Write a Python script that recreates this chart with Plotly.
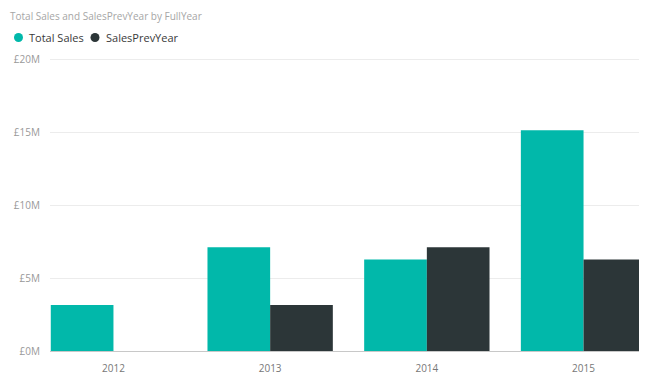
import plotly.graph_objects as go

years = ["2012", "2013", "2014", "2015"]
total_sales = [3.15e6, 7.12e6, 6.28e6, 15.14e6]
sales_prev_year = [None, 3.15e6, 7.12e6, 6.28e6]
y_ticks = [0, 5e6, 10e6, 15e6, 20e6]
y_tick_labels = ["£0M", "£5M", "£10M", "£15M", "£20M"]
series_names = ["Total Sales", "SalesPrevYear"]

TEAL = "#01B8AA"
DARK = "#2C3638"
FONT = "Segoe UI, Open Sans, sans-serif"

# the page body adds an 8px offset; the figure is sized to fill the rest of the window
OFF = 8
W, H = 647 - OFF, 376 - OFF
ML, MR, MT, MB = 42, 0, 50, 25
PW, PH = W - ML - MR, H - MT - MB


def px_x(px):  # screenshot px -> paper x
    return (px - OFF - ML) / PW


def px_y(py):  # screenshot px -> paper y
    return 1 - (py - OFF - MT) / PH


fig = go.Figure()
fig.add_trace(go.Bar(x=years, y=total_sales, name=series_names[0],
                     marker=dict(color=TEAL, line=dict(width=0))))
fig.add_trace(go.Bar(x=years, y=sales_prev_year, name=series_names[1],
                     marker=dict(color=DARK, line=dict(width=0))))

# custom legend (round markers, as in the original)
legend_items = [(series_names[0], TEAL, 18.5, 26.5), (series_names[1], DARK, 95, 103.5)]
LEG_Y = 37.5
shapes, annotations = [], []
for name, color, cx, tx in legend_items:
    shapes.append(dict(type="circle", xref="paper", yref="paper",
                       xsizemode="pixel", ysizemode="pixel",
                       xanchor=px_x(cx), yanchor=px_y(LEG_Y),
                       x0=-4.5, x1=4.5, y0=-4.5, y1=4.5,
                       fillcolor=color, line=dict(width=0)))
    annotations.append(dict(text=name, xref="paper", yref="paper",
                            x=px_x(tx), y=px_y(LEG_Y),
                            xanchor="left", yanchor="middle", showarrow=False,
                            font=dict(family=FONT, size=11, color="#3a3a3a")))

fig.update_layout(
    width=W, height=H,
    margin=dict(l=ML, r=MR, t=MT, b=MB, autoexpand=False),
    paper_bgcolor="white", plot_bgcolor="white",
    barmode="group", bargap=0.2, bargroupgap=0,
    showlegend=False,
    font=dict(family=FONT, color="#999999", size=10),
    title=dict(text="Total Sales and SalesPrevYear by FullYear",
               x=(10 - OFF) / W, xref="container", xanchor="left",
               y=1 - (16 - OFF) / H, yref="container", yanchor="middle",
               font=dict(family=FONT, size=10, color="#a6a6a6")),
    shapes=shapes, annotations=annotations,
    xaxis=dict(type="category", range=[-0.405, 3.405], showgrid=False,
               showline=True, linecolor="#c8c8c8", linewidth=1,
               ticks="", ticklabelstandoff=8,
               tickfont=dict(size=10, color="#777777")),
    yaxis=dict(range=[0, 20.1e6], tickvals=y_ticks, ticktext=y_tick_labels,
               showgrid=True, gridcolor="#ececec", gridwidth=1,
               zeroline=False, showline=False, ticks="",
               ticklabelstandoff=9,
               tickfont=dict(size=10, color="#999999")),
)
fig.write_html("out.html")
